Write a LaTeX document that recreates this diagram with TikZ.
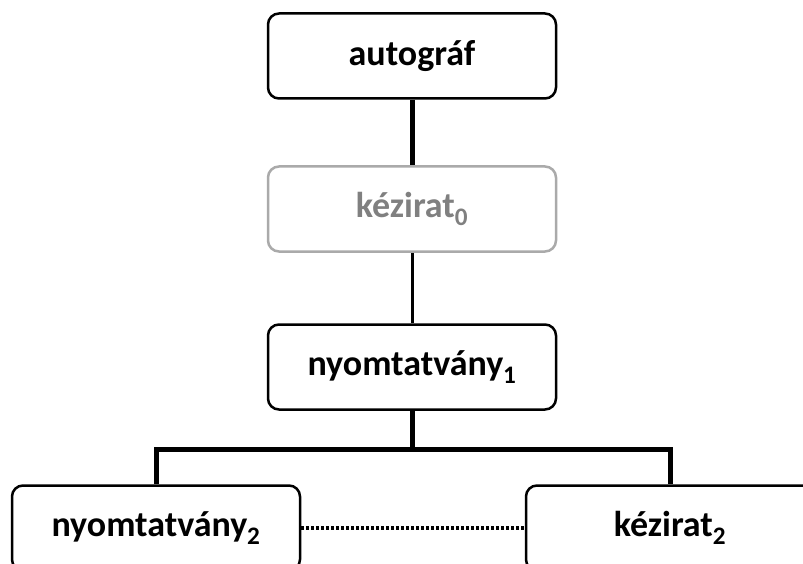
\documentclass[tikz,border=0pt]{standalone}
\usepackage{fontspec}
\setmainfont{Carlito}
\definecolor{faded}{RGB}{170,170,170}
\definecolor{fadedtext}{RGB}{128,128,128}
\begin{document}
\begin{tikzpicture}[x=1pt,y=-1pt,
  stage/.style={draw, line width=2.5pt, rounded corners=11pt,
    minimum width=288pt, minimum height=85pt, inner sep=0pt,
    font=\bfseries\fontsize{36}{42}\selectfont},
  lost/.style={stage, draw=faded, text=fadedtext},
  heavy/.style={line width=5pt},
  light/.style={line width=3pt},
  guess/.style={line width=3.5pt, dash pattern=on 2.5pt off 2.5pt}]
\useasboundingbox (0,0) rectangle (803,564);
\fill[white] (0,0) rectangle (803,564);

\node[stage] (auto) at (412,56) {autográf};
\node[lost]  (k0)   at (412,209) {kézirat\textsubscript{0}};
\node[stage] (ny1)  at (412,367) {nyomtatvány\textsubscript{1}};
\node[stage] (ny2)  at (156,528) {nyomtatvány\textsubscript{2}};
\node[stage] (k2)   at (670,528) {kézirat\textsubscript{2}};

\coordinate (fork) at (412,449);

\draw[heavy] (auto) -- (k0);
\draw[light] (k0) -- (ny1);
\draw[heavy] (ny1) -- (fork);
\draw[heavy] (ny2.north) -- (ny2.north |- fork) -- (k2.north |- fork) -- (k2.north);
\draw[guess] (ny2) -- (k2);
\end{tikzpicture}
\end{document}
